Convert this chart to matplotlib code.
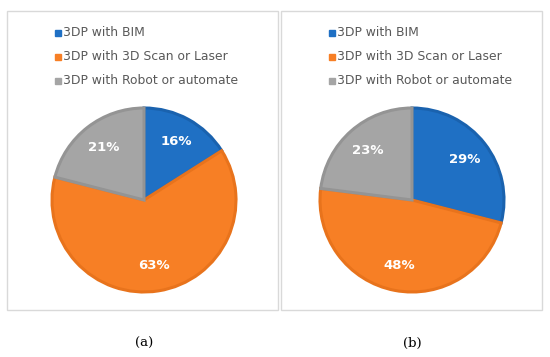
import numpy as np
import matplotlib.pyplot as plt
from matplotlib.patches import Rectangle

W, H = 550, 357

labels = ["3DP with BIM", "3DP with 3D Scan or Laser", "3DP with Robot or automate"]
share_a = [16, 63, 21]
share_b = [29, 48, 23]
panel_names = ["(a)", "(b)"]

colors = ["#1F70C4", "#F77F25", "#A5A5A5"]
edges = ["#1A62AE", "#E8731C", "#949494"]

fig = plt.figure(figsize=(W / 100, H / 100), dpi=100)
fig.patch.set_facecolor("white")

def fx(px):
    return px / W

def fy(py):
    return 1 - py / H

# panel boxes (x0, x1) in pixels
panels = [(7, 278), (281, 542)]
centers = [144, 412]
data = [share_a, share_b]

for (x0, x1), cx, vals, name in zip(panels, centers, data, panel_names):
    fig.add_artist(Rectangle((fx(x0), fy(310)), fx(x1 - x0), (310 - 11) / H,
                             transform=fig.transFigure, fill=False,
                             edgecolor="#D9D9D9", linewidth=1))
    r = 92
    cy = 200
    ax = fig.add_axes([fx(cx - r), fy(cy + r), fx(2 * r), 2 * r / H])
    wedges, texts = ax.pie(vals, colors=colors, startangle=90, counterclock=False,
                           wedgeprops=dict(linewidth=2.2, edgecolor="white"))
    for w, ec in zip(wedges, edges):
        w.set_edgecolor(ec)
    # percentage labels
    start = 90.0
    for v in vals:
        mid = np.deg2rad(start - v / 100 * 360 / 2)
        start -= v / 100 * 360
        ax.text(0.72 * np.cos(mid), 0.72 * np.sin(mid), f"{v}%", ha="center", va="center",
                color="white", fontsize=9.5, fontweight="bold", family="DejaVu Sans")
    ax.set_xlim(-1, 1)
    ax.set_ylim(-1, 1)
    ax.set_aspect("equal")

    # legend
    lx = x0 + 48
    for i, (lab, c) in enumerate(zip(labels, colors)):
        y = 33 + i * 24
        fig.add_artist(Rectangle((fx(lx), fy(y + 3)), fx(6), 6 / H,
                                 transform=fig.transFigure, color=c))
        fig.text(fx(lx + 8), fy(y), lab, ha="left", va="center", fontsize=8.9,
                 color="#595959", family="DejaVu Sans")

    fig.text(fx(cx), fy(343), name, ha="center", va="center", fontsize=9.5,
             family="DejaVu Serif", color="black")

fig.savefig("out.png", dpi=100)
